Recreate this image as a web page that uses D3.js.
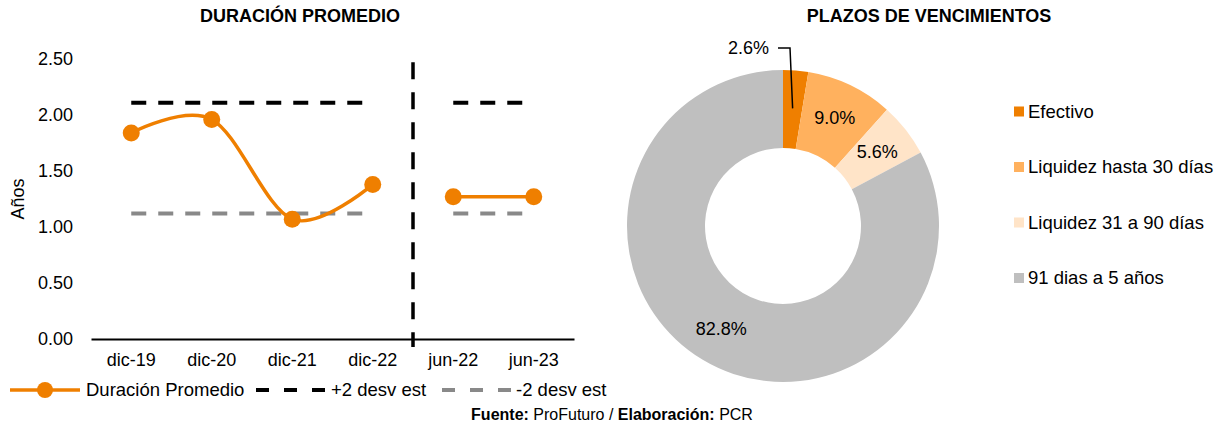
<!DOCTYPE html>
<html>
<head>
<meta charset="utf-8">
<script src="https://cdn.jsdelivr.net/npm/d3@7"></script>
<style>
  body { margin: 0; background: #fff; }
  svg { font-family: "Liberation Sans", Arial, sans-serif; }
</style>
</head>
<body>
<div id="chart"></div>
<script>
// Data
var categories = ["dic-19", "dic-20", "dic-21", "dic-22", "jun-22", "jun-23"];
var duracion = [1.84, 1.96, 1.07, 1.38, 1.27, 1.27];
var mas2desv = [2.11, 2.11, 2.11, 2.11, 2.11, 2.11];
var menos2desv = [1.12, 1.12, 1.12, 1.12, 1.12, 1.12];
var tramo = [0, 0, 0, 0, 1, 1]; // the two periods are drawn apart
var yTicks = [0, 0.5, 1, 1.5, 2, 2.5];

var plazos = ["Efectivo", "Liquidez hasta 30 días", "Liquidez 31 a 90 días", "91 dias a 5 años"];
var plazosValores = [2.6, 9.0, 5.6, 82.8];
var plazosColores = ["#ef7f00", "#ffb15e", "#ffe4c8", "#bfbfbf"];

var orange = "#ef7f00";

var svg = d3.select("#chart").append("svg")
    .attr("width", 1225)
    .attr("height", 430);

// ---------- left chart: duración promedio ----------
var x = d3.scaleBand().domain(categories).range([91, 574]);
var y = d3.scaleLinear().domain([0, 2.5]).range([339, 59]);
var cx = function (i) { return x(categories[i]) + x.bandwidth() / 2; };

svg.append("text")
    .attr("x", 300).attr("y", 22)
    .attr("text-anchor", "middle")
    .style("font-weight", "bold").style("font-size", "18px")
    .text("DURACIÓN PROMEDIO");

// y tick labels (no axis line)
svg.append("g")
    .selectAll("text")
    .data(yTicks)
    .enter().append("text")
    .attr("x", 73)
    .attr("y", function (d) { return y(d); })
    .attr("dy", "0.35em")
    .attr("text-anchor", "end")
    .style("font-size", "18px")
    .text(function (d) { return d3.format(".2f")(d); });

svg.append("text")
    .attr("transform", "translate(24," + y(1.25) + ") rotate(-90)")
    .attr("text-anchor", "middle")
    .style("font-size", "18px")
    .text("Años");

// x axis
var xAxis = svg.append("g")
    .attr("transform", "translate(0," + y(0) + ")")
    .call(d3.axisBottom(x).tickSize(0).tickPadding(14));
xAxis.select(".domain").attr("stroke", "#000").attr("stroke-width", 2);
xAxis.selectAll("text")
    .style("font-size", "18px")
    .style("font-family", "Liberation Sans, Arial, sans-serif")
    .attr("fill", "#000");

// divider between the annual and half-year periods
svg.append("line")
    .attr("x1", x("jun-22")).attr("x2", x("jun-22"))
    .attr("y1", y(2.47)).attr("y2", y(0) + 8)
    .attr("stroke", "#000")
    .attr("stroke-width", 3.5)
    .attr("stroke-dasharray", "17,13");

function segmentos(values) {
    var groups = d3.groups(values.map(function (v, i) { return { i: i, v: v, t: tramo[i] }; }),
        function (d) { return d.t; });
    return groups.map(function (g) { return g[1]; });
}

var straight = d3.line()
    .x(function (d) { return cx(d.i); })
    .y(function (d) { return y(d.v); });

var smooth = d3.line()
    .x(function (d) { return cx(d.i); })
    .y(function (d) { return y(d.v); })
    .curve(d3.curveCardinal.tension(0));

svg.append("g").selectAll("path")
    .data(segmentos(mas2desv))
    .enter().append("path")
    .attr("d", straight)
    .attr("fill", "none")
    .attr("stroke", "#000")
    .attr("stroke-width", 4)
    .attr("stroke-dasharray", "15,12");

svg.append("g").selectAll("path")
    .data(segmentos(menos2desv))
    .enter().append("path")
    .attr("d", straight)
    .attr("fill", "none")
    .attr("stroke", "#898989")
    .attr("stroke-width", 4)
    .attr("stroke-dasharray", "15,12");

svg.append("g").selectAll("path")
    .data(segmentos(duracion))
    .enter().append("path")
    .attr("d", smooth)
    .attr("fill", "none")
    .attr("stroke", orange)
    .attr("stroke-width", 3.5);

svg.append("g").selectAll("circle")
    .data(duracion)
    .enter().append("circle")
    .attr("cx", function (d, i) { return cx(i); })
    .attr("cy", function (d) { return y(d); })
    .attr("r", 8.5)
    .attr("fill", orange);

// bottom legend
var legY = 390;
var leg = svg.append("g");
leg.append("line").attr("x1", 10).attr("x2", 80).attr("y1", legY).attr("y2", legY)
    .attr("stroke", orange).attr("stroke-width", 3.5);
leg.append("circle").attr("cx", 45).attr("cy", legY).attr("r", 8).attr("fill", orange);
leg.append("text").attr("x", 86).attr("y", legY).attr("dy", "0.35em")
    .style("font-size", "18.5px").text("Duración Promedio");
leg.append("line").attr("x1", 256).attr("x2", 327).attr("y1", legY).attr("y2", legY)
    .attr("stroke", "#000").attr("stroke-width", 4).attr("stroke-dasharray", "13,15");
leg.append("text").attr("x", 331).attr("y", legY).attr("dy", "0.35em")
    .style("font-size", "18.5px").text("+2 desv est");
leg.append("line").attr("x1", 442).attr("x2", 513).attr("y1", legY).attr("y2", legY)
    .attr("stroke", "#898989").attr("stroke-width", 4).attr("stroke-dasharray", "13,15");
leg.append("text").attr("x", 516).attr("y", legY).attr("dy", "0.35em")
    .style("font-size", "18.5px").text("-2 desv est");

// ---------- right chart: plazos de vencimientos ----------
svg.append("text")
    .attr("x", 929).attr("y", 22)
    .attr("text-anchor", "middle")
    .style("font-weight", "bold").style("font-size", "18px")
    .text("PLAZOS DE VENCIMIENTOS");

var outerR = 156, innerR = 78;
var donut = svg.append("g").attr("transform", "translate(783,226)");

var pie = d3.pie().sort(null).value(function (d) { return d; });
var arcs = pie(plazosValores);
var arc = d3.arc().innerRadius(innerR).outerRadius(outerR);
var labelArc = d3.arc().innerRadius(120).outerRadius(120);

donut.selectAll("path")
    .data(arcs)
    .enter().append("path")
    .attr("d", arc)
    .attr("fill", function (d, i) { return plazosColores[i]; });

donut.selectAll("text.lbl")
    .data(arcs.slice(1))
    .enter().append("text")
    .attr("class", "lbl")
    .attr("transform", function (d) { return "translate(" + labelArc.centroid(d) + ")"; })
    .attr("dy", "0.35em")
    .attr("text-anchor", "middle")
    .style("font-size", "18px")
    .text(function (d) { return d3.format(".1f")(d.data) + "%"; });

// first slice is labelled outside with a leader line
var first = arcs[0];
var inside = d3.arc().innerRadius(118).outerRadius(118).centroid(first);
var topY = -outerR - 22;
donut.append("path")
    .attr("d", "M" + (-5) + "," + topY + "H" + 7 + "L" + inside[0] + "," + inside[1])
    .attr("fill", "none")
    .attr("stroke", "#000")
    .attr("stroke-width", 1.5);
donut.append("text")
    .attr("x", -14).attr("y", topY)
    .attr("dy", "0.35em")
    .attr("text-anchor", "end")
    .style("font-size", "18px")
    .text(d3.format(".1f")(first.data) + "%");

// right legend
var legR = svg.append("g").selectAll("g")
    .data(plazos)
    .enter().append("g")
    .attr("transform", function (d, i) { return "translate(1014," + (111.5 + i * 55.5) + ")"; });
legR.append("rect")
    .attr("x", 0).attr("y", -5).attr("width", 10).attr("height", 10)
    .attr("fill", function (d, i) { return plazosColores[i]; });
legR.append("text")
    .attr("x", 14).attr("dy", "0.35em")
    .style("font-size", "18.5px")
    .text(function (d) { return d; });

// source
var src = svg.append("text")
    .attr("x", 612).attr("y", 420)
    .attr("text-anchor", "middle")
    .style("font-size", "16px");
src.append("tspan").style("font-weight", "bold").text("Fuente:");
src.append("tspan").text(" ProFuturo / ");
src.append("tspan").style("font-weight", "bold").text("Elaboración:");
src.append("tspan").text(" PCR");
</script>
</body>
</html>
